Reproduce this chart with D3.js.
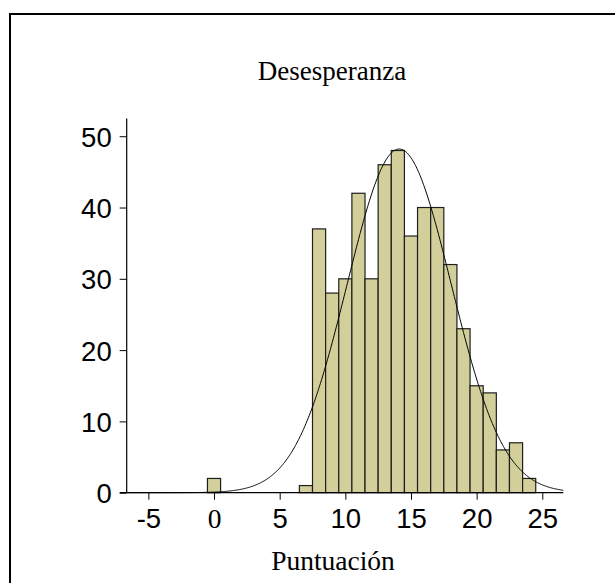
<!DOCTYPE html>
<html>
<head>
<meta charset="utf-8">
<script src="https://cdn.jsdelivr.net/npm/d3@7"></script>
<style>
  html, body { margin: 0; padding: 0; background: #fff; }
  svg { display: block; }
</style>
</head>
<body>
<svg id="chart" width="615" height="583"></svg>
<script>
// Histogram of "Desesperanza" scores: one bar per integer score (bin width 1)
const scores = [0, 7, 8, 9, 10, 11, 12, 13, 14, 15, 16, 17, 18, 19, 20, 21, 22, 23, 24];
const counts = [2, 1, 37, 28, 30, 42, 30, 46, 48, 36, 40, 40, 32, 23, 15, 14, 6, 7, 2];
const xTicks = [-5, 0, 5, 10, 15, 20, 25];
const yTicks = [0, 10, 20, 30, 40, 50];
const titleText = "Desesperanza";
const xLabelText = "Puntuación";

const svg = d3.select("#chart");

// frame around the chart panel
svg.append("rect")
  .attr("x", 10).attr("y", 14)
  .attr("width", 640).attr("height", 620)
  .attr("fill", "none").attr("stroke", "#000").attr("stroke-width", 2);

const plot = { left: 126.7, right: 563.3, top: 118.4, bottom: 492.7 };

const x = d3.scaleLinear().domain([-6.65, 26.6]).range([plot.left, plot.right]);
const y = d3.scaleLinear().domain([0, 52.5]).range([plot.bottom, plot.top]);

// bars
const binW = 1;
svg.append("g").selectAll("rect")
  .data(scores.map((s, i) => ({ s, c: counts[i] })))
  .join("rect")
  .attr("x", d => x(d.s - binW / 2))
  .attr("y", d => y(d.c))
  .attr("width", d => x(d.s + binW / 2) - x(d.s - binW / 2))
  .attr("height", d => y(0) - y(d.c))
  .attr("fill", "#d3cf9b")
  .attr("stroke", "#1e1e1e")
  .attr("stroke-width", 1.2);

// fitted normal curve, scaled to counts (n * bin width * density)
const n = d3.sum(counts);
const mean = d3.sum(scores, (s, i) => s * counts[i]) / n;
const variance = d3.sum(scores, (s, i) => (s - mean) ** 2 * counts[i]) / (n - 1);
const sd = Math.sqrt(variance);
const density = v => n * binW / (sd * Math.sqrt(2 * Math.PI)) * Math.exp(-((v - mean) ** 2) / (2 * variance));
const curveXs = d3.range(x.domain()[0], x.domain()[1] + 0.001, 0.05);
svg.append("path")
  .datum(curveXs)
  .attr("fill", "none")
  .attr("stroke", "#000")
  .attr("stroke-width", 1)
  .attr("d", d3.line().x(v => x(v)).y(v => y(density(v))));

// axes (plain hyphen-minus for negative labels)
const fmt = d => String(d);
const xAxis = svg.append("g")
  .attr("transform", `translate(0,${plot.bottom})`)
  .call(d3.axisBottom(x).tickValues(xTicks).tickSize(7).tickFormat(fmt));
const yAxis = svg.append("g")
  .attr("transform", `translate(${plot.left},0)`)
  .call(d3.axisLeft(y).tickValues(yTicks).tickSize(7).tickPadding(8).tickFormat(fmt));

[xAxis, yAxis].forEach(g => {
  g.select(".domain").attr("stroke", "#000").attr("stroke-width", 1.2);
  g.selectAll(".tick line").attr("stroke", "#000").attr("stroke-width", 1);
  g.selectAll(".tick text")
    .attr("fill", "#000")
    .attr("font-family", "'Liberation Sans', Arial, Helvetica, sans-serif")
    .attr("font-size", 27.5);
});
// the domain path is drawn as a plain line without end ticks
xAxis.select(".domain").attr("d", `M${plot.left - 7},0H${plot.right}`);
yAxis.select(".domain").attr("d", `M0,${plot.top}V${plot.bottom}`);
xAxis.selectAll(".tick text").attr("y", 35.6).attr("dy", 0);
yAxis.selectAll(".tick text").attr("dy", "0.36em");
// the zero label on the x axis is set in the serif face
xAxis.selectAll(".tick text").filter(d => d === 0)
  .attr("font-family", "'Liberation Serif', 'Times New Roman', serif");

// title and axis label
svg.append("text")
  .attr("x", 332).attr("y", 80)
  .attr("text-anchor", "middle")
  .attr("font-family", "'Liberation Serif', 'Times New Roman', serif")
  .attr("font-size", 27)
  .attr("fill", "#000")
  .text(titleText);

svg.append("text")
  .attr("x", 333).attr("y", 570)
  .attr("text-anchor", "middle")
  .attr("font-family", "'Liberation Serif', 'Times New Roman', serif")
  .attr("font-size", 27.5)
  .attr("fill", "#000")
  .text(xLabelText);
</script>
</body>
</html>
